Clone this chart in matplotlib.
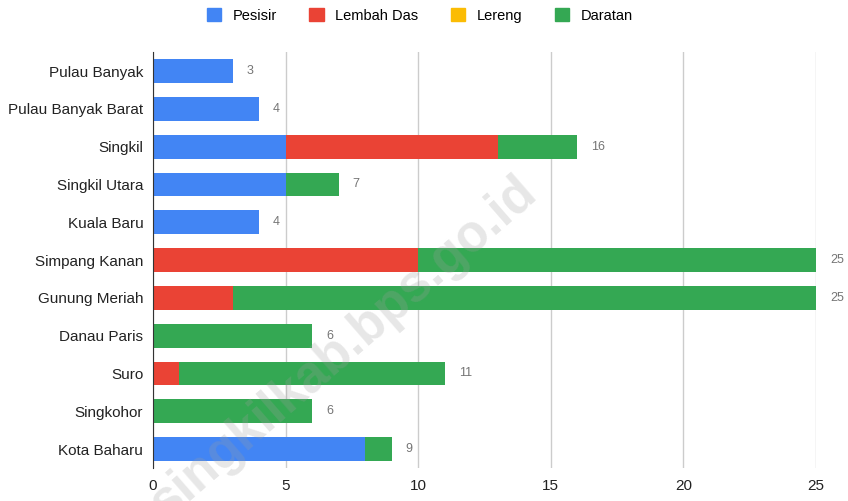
import numpy as np
import matplotlib.pyplot as plt
from matplotlib.patches import Patch

plt.rcParams["font.family"] = ["Liberation Sans", "DejaVu Sans"]

# Data: number of villages per district by topography
kecamatan = ["Pulau Banyak", "Pulau Banyak Barat", "Singkil", "Singkil Utara",
             "Kuala Baru", "Simpang Kanan", "Gunung Meriah", "Danau Paris",
             "Suro", "Singkohor", "Kota Baharu"]
pesisir = [3, 4, 5, 5, 4, 0, 0, 0, 0, 0, 8]
lembah_das = [0, 0, 8, 0, 0, 10, 3, 0, 1, 0, 0]
lereng = [0, 0, 0, 0, 0, 0, 0, 0, 0, 0, 0]
daratan = [0, 0, 3, 2, 0, 15, 22, 6, 10, 6, 1]

series_names = ["Pesisir", "Lembah Das", "Lereng", "Daratan"]
colors = ["#4285F4", "#EA4335", "#FBBC04", "#34A853"]

fig = plt.figure(figsize=(8.48, 5.01), dpi=100)
ax = fig.add_axes([0.1804, 0.066, 0.7818, 0.830])

y = np.arange(len(kecamatan))
left = np.zeros(len(kecamatan))
for vals, name, col in zip([pesisir, lembah_das, lereng, daratan], series_names, colors):
    vals = np.array(vals, dtype=float)
    ax.barh(y, vals, left=left, height=0.63, color=col, label=name, zorder=2)
    left += vals

# totals next to the bars
for yi, tot in zip(y, left):
    ax.annotate(f"{int(tot)}", xy=(tot, yi), xytext=(10, 0), textcoords="offset points",
                va="center", ha="left", fontsize=9, color="#757575")

ax.set_xlim(0, 25)
ax.set_ylim(len(kecamatan) - 0.5, -0.5)
ax.set_yticks(y)
ax.set_yticklabels(kecamatan, fontsize=11, color="#222222")
ax.set_xticks([0, 5, 10, 15, 20, 25])
ax.tick_params(axis="x", labelsize=11, colors="#222222", length=0, pad=8)
ax.tick_params(axis="y", length=0, pad=7)
ax.grid(axis="x", color="#cccccc", linewidth=1, zorder=0)
for s in ["top", "right", "bottom"]:
    ax.spines[s].set_visible(False)
ax.spines["left"].set_color("#333333")
ax.spines["left"].set_zorder(3)

handles = [Patch(facecolor=c, edgecolor=c, label=n) for n, c in zip(series_names, colors)]
fig.legend(handles=handles, loc="upper center", bbox_to_anchor=(0.495, 1.01), ncol=4,
           frameon=False, fontsize=10.5, handlelength=1.0, handleheight=1.0,
           handletextpad=0.8, columnspacing=2.2)

# watermark (cut at the bottom edge, as in the original)
fig.text(0.405, 0.305, "singkilkab.bps.go.id", rotation=41, fontsize=37, fontweight="bold",
         color="#9e9e9e", alpha=0.25, ha="center", va="center", zorder=10)

fig.savefig("out.png", dpi=100)
